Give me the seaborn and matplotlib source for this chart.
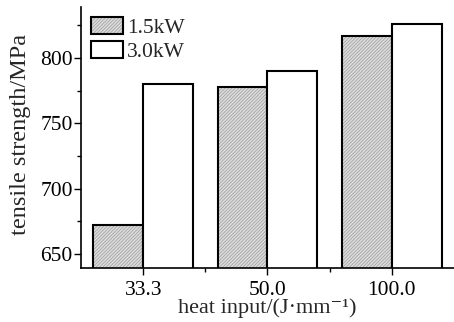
import matplotlib
matplotlib.use("Agg")
import matplotlib.pyplot as plt
import matplotlib.colors as mcolors
import seaborn as sns
import pandas as pd
from matplotlib.ticker import FixedLocator
from matplotlib.patches import Patch

categories = ["33.3", "50.0", "100.0"]
series_names = ["1.5kW", "3.0kW"]
values_15 = [672, 778, 817]
values_30 = [780, 790, 826]

df = pd.DataFrame({
    "heat": categories * 2,
    "power": [series_names[0]] * 3 + [series_names[1]] * 3,
    "strength": values_15 + values_30,
})

sns.set_style("ticks")
plt.rcParams['font.family'] = ['Liberation Serif', 'DejaVu Serif']
HCOL = '#9c9c9c'
plt.rcParams['hatch.color'] = HCOL
plt.rcParams['hatch.linewidth'] = 0.5

fig = plt.figure(figsize=(4.54, 3.22), dpi=100)
ax = fig.add_axes([0.1784, 0.1677, 0.8216, 0.8103])

HATCH = "//////////"
FACE = "#dcdcdc"

sns.barplot(data=df, x="heat", y="strength", hue="power", order=categories,
            hue_order=series_names, palette=[FACE, "white"],
            edgecolor="black", linewidth=1.5, width=0.8, ax=ax, legend=False,
            saturation=1)

def apply_hatch(p):
    p.set_hatch(HATCH)
    if hasattr(p, "set_hatchcolor"):
        try:
            p.set_hatchcolor(HCOL)
        except Exception:
            pass
    p._hatch_color = mcolors.to_rgba(HCOL)
    p.stale = True

for p in ax.patches[:3]:
    apply_hatch(p)

ax.set_xlim(-0.5, 2.5)
ax.set_ylim(639.3, 839)
ax.yaxis.set_major_locator(FixedLocator([650, 700, 750, 800]))
ax.yaxis.set_minor_locator(FixedLocator([675, 725, 775, 825]))
ax.xaxis.set_minor_locator(FixedLocator([0.5, 1.5]))
ax.tick_params(axis="both", which="major", direction="out", length=5, width=1.0,
               labelsize=15.5, color="black", labelcolor="black")
ax.tick_params(axis="both", which="minor", direction="out", length=3, width=1.0,
               color="black")
ax.tick_params(axis="y", pad=1)
ax.tick_params(axis="x", pad=4)

for s in ["top", "right"]:
    ax.spines[s].set_visible(False)
for s in ["left", "bottom"]:
    ax.spines[s].set_linewidth(1.2)
    ax.spines[s].set_color("black")

ax.set_xlabel("heat input/(J\u00b7mm\u207b\u00b9)", fontsize=16, labelpad=-1)
ax.set_ylabel("tensile strength/MPa", fontsize=17.5)
ax.yaxis.set_label_coords(-0.135, 0.51)

h1 = Patch(facecolor=FACE, edgecolor="black", linewidth=1.5)
apply_hatch(h1)
h2 = Patch(facecolor="white", edgecolor="black", linewidth=1.5)
leg = ax.legend([h1, h2], series_names, loc="upper left", bbox_to_anchor=(0.028, 0.962),
                frameon=False, fontsize=15.5, handlelength=1.45, handleheight=0.85,
                handletextpad=0.2, labelspacing=0.12, borderaxespad=0.0, borderpad=0.0)
for lp in leg.get_patches()[:1]:
    apply_hatch(lp)

fig.savefig("out.png", dpi=100)
